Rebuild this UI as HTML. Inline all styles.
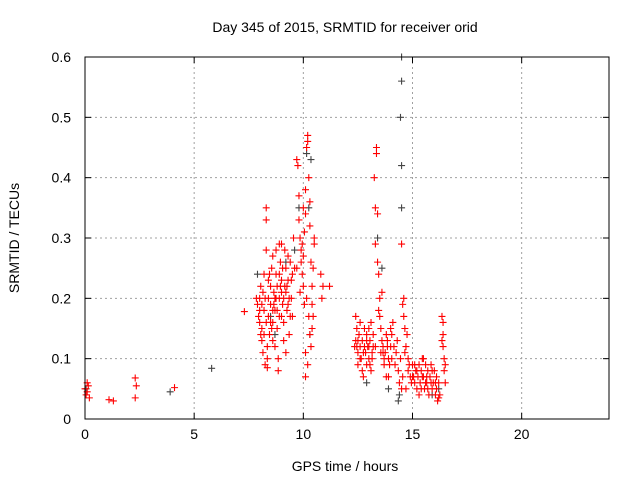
<!DOCTYPE html>
<html><head><meta charset="utf-8"><style>
body{margin:0;background:#fff;}
svg{display:block;font-family:"Liberation Sans",sans-serif;}
</style></head><body>
<svg id="chart" width="640" height="480">
<text x="345" y="32" text-anchor="middle" font-size="14">Day 345 of 2015, SRMTID for receiver orid</text>
<text transform="translate(19,238) rotate(-90)" text-anchor="middle" font-size="14">SRMTID / TECUs</text>
<text x="345" y="471" text-anchor="middle" font-size="14">GPS time / hours</text>
<g id="grid"></g>
<g id="ticks"></g>
<g id="marks"></g>
<rect x="85" y="57" width="524" height="362" fill="none" stroke="#000"/>
</svg>
<script>
const xTicks=[0,5,10,15,20];
const yTicks=[0,0.1,0.2,0.3,0.4,0.5,0.6];
const yTickLabels=["0","0.1","0.2","0.3","0.4","0.5","0.6"];
const redHours=[0,0.05,0.1,0.15,0.2,0.1,1.1,1.3,2.3,2.35,2.3,4.1,7.3,
7.9,7.95,8.0,8.0,8.05,8.1,8.1,8.15,8.2,8.2,8.25,8.3,8.3,8.3,8.35,8.35,8.4,8.4,8.45,8.5,8.5,8.55,8.6,8.6,8.65,8.7,8.7,8.75,8.8,8.8,8.85,8.85,8.9,8.9,8.95,9.0,9.0,9.05,9.1,9.1,9.15,9.2,9.2,9.25,9.3,9.3,9.35,9.4,9.45,9.5,9.5,9.55,9.6,8.9,8.6,8.2,9.1,9.0,8.45,8.15,7.85,8.75,8.95,9.35,9.2,8.55,8.65,
8.0,8.1,8.25,8.4,8.5,8.7,8.8,9.0,9.15,9.3,9.45,8.05,8.35,8.6,8.9,9.25,9.4,8.3,8.75,9.05,
9.7,9.75,9.8,9.8,9.85,9.9,9.9,9.95,10.0,10.0,10.05,10.1,10.1,10.15,10.2,10.2,10.25,10.3,10.3,10.35,10.4,10.4,10.45,10.5,10.5,10.3,10.2,10.1,10.1,10.35,10.8,10.9,11.2,10.85,10.0,9.95,10.05,10.15,10.25,9.85,10.45,10.4,9.7,
12.4,12.45,12.5,12.5,12.55,12.6,12.6,12.65,12.7,12.7,12.75,12.8,12.85,12.9,12.9,12.95,13.0,13.0,13.05,13.1,13.1,13.15,13.2,13.25,13.3,13.3,13.35,13.35,13.4,13.4,13.45,13.5,13.5,13.55,13.6,13.6,13.65,13.7,13.7,13.75,13.8,13.8,13.85,13.9,13.95,14.0,14.0,12.4,12.5,12.8,13.2,13.45,13.55,13.9,12.35,13.05,
12.45,12.6,12.75,12.9,13.0,13.15,13.3,13.65,13.85,14.05,
14.05,14.1,14.15,14.2,14.25,14.3,14.35,14.4,14.45,14.5,14.55,14.6,14.6,14.65,14.7,14.75,14.8,14.85,14.9,14.95,14.5,14.55,14.7,14.8,14.65,
15.0,15.05,15.1,15.15,15.2,15.25,15.3,15.35,15.4,15.45,15.5,15.55,15.6,15.65,15.7,15.75,15.8,15.85,15.9,15.95,16.0,16.05,16.1,16.15,16.2,16.25,15.1,15.3,15.5,15.7,15.9,16.1,16.2,15.6,15.4,
15.0,15.2,15.45,15.65,15.85,16.05,
16.35,16.4,16.35,16.4,16.45,16.5,16.45,16.5,16.4];
const redValues=[0.05,0.04,0.06,0.055,0.035,0.045,0.032,0.03,0.068,0.055,0.035,0.052,0.178,
0.19,0.17,0.2,0.16,0.22,0.15,0.13,0.11,0.18,0.24,0.09,0.35,0.33,0.28,0.1,0.085,0.2,0.17,0.14,0.22,0.19,0.25,0.27,0.16,0.21,0.18,0.12,0.24,0.22,0.15,0.1,0.08,0.2,0.17,0.26,0.29,0.23,0.19,0.16,0.13,0.28,0.25,0.21,0.18,0.27,0.23,0.14,0.26,0.2,0.24,0.17,0.3,0.25,0.29,0.13,0.14,0.2,0.17,0.24,0.21,0.2,0.28,0.22,0.2,0.11,0.15,0.19,
0.18,0.19,0.2,0.23,0.16,0.2,0.18,0.21,0.22,0.19,0.23,0.14,0.12,0.18,0.24,0.22,0.17,0.16,0.2,0.25,
0.43,0.42,0.37,0.33,0.3,0.28,0.26,0.24,0.27,0.22,0.31,0.34,0.38,0.45,0.47,0.46,0.4,0.36,0.32,0.26,0.22,0.19,0.25,0.29,0.3,0.14,0.09,0.07,0.11,0.12,0.24,0.22,0.22,0.2,0.35,0.29,0.19,0.2,0.17,0.21,0.17,0.15,0.25,
0.17,0.15,0.13,0.11,0.14,0.16,0.12,0.1,0.13,0.08,0.07,0.12,0.11,0.14,0.09,0.12,0.15,0.1,0.13,0.16,0.08,0.11,0.14,0.4,0.35,0.29,0.45,0.44,0.34,0.26,0.24,0.2,0.17,0.15,0.21,0.13,0.12,0.09,0.1,0.11,0.14,0.07,0.13,0.1,0.09,0.12,0.15,0.13,0.09,0.15,0.12,0.18,0.11,0.07,0.12,0.09,
0.12,0.1,0.11,0.13,0.12,0.1,0.12,0.11,0.12,0.1,
0.14,0.16,0.12,0.09,0.11,0.13,0.08,0.06,0.1,0.29,0.19,0.2,0.17,0.15,0.12,0.14,0.1,0.09,0.07,0.06,0.05,0.07,0.05,0.08,0.11,
0.09,0.07,0.06,0.08,0.05,0.07,0.09,0.06,0.08,0.1,0.07,0.05,0.09,0.06,0.08,0.04,0.07,0.09,0.05,0.06,0.08,0.04,0.05,0.03,0.06,0.04,0.09,0.04,0.1,0.05,0.08,0.07,0.035,0.06,0.05,
0.07,0.08,0.07,0.07,0.06,0.06,
0.17,0.16,0.13,0.12,0.1,0.09,0.08,0.06,0.14];
const blackHours=[0.05,3.9,5.8,7.9,8.5,8.7,9.2,9.8,10.15,10.35,10.25,10.3,13.4,13.6,14.5,14.5,14.45,14.5,14.5,14.4,14.35,13.9,15.9,16.2,12.9,9.6];
const blackValues=[0.05,0.045,0.084,0.24,0.17,0.14,0.26,0.35,0.44,0.43,0.35,0.14,0.3,0.25,0.6,0.56,0.5,0.42,0.35,0.04,0.03,0.05,0.04,0.05,0.06,0.28];

const NS="http://www.w3.org/2000/svg";
const X0=85,X1=609,Y0=419,Y1=57;
function sx(h){return X0+(h/24)*(X1-X0);}
function sy(v){return Y0-(v/0.6)*(Y0-Y1);}
const grid=document.getElementById('grid'),ticks=document.getElementById('ticks'),marks=document.getElementById('marks');
function mk(tag,attrs,parent){const e=document.createElementNS(NS,tag);for(const k in attrs)e.setAttribute(k,attrs[k]);parent.appendChild(e);return e;}
xTicks.forEach(t=>{
  const x=sx(t);
  if(t>0){const g=mk('line',{x1:x,x2:x,y1:Y1,y2:Y0,stroke:'#a0a0a0','stroke-dasharray':'2,3'},grid);
  
  }
  mk('line',{x1:x,x2:x,y1:Y0,y2:Y0-6,stroke:'#000'},ticks);
  mk('line',{x1:x,x2:x,y1:Y1,y2:Y1+6,stroke:'#000'},ticks);
  const l=mk('text',{x:x,y:Y0+20,'text-anchor':'middle','font-size':'14'},ticks);l.textContent=t;
  
  
});
yTicks.forEach((t,i)=>{
  const y=sy(t);
  if(i>0&&i<yTicks.length-1){const g=mk('line',{x1:X0,x2:X1,y1:y,y2:y,stroke:'#a0a0a0','stroke-dasharray':'2,3'},grid);
  
  }
  mk('line',{x1:X0,x2:X0+6,y1:y,y2:y,stroke:'#000'},ticks);
  mk('line',{x1:X1,x2:X1-6,y1:y,y2:y,stroke:'#000'},ticks);
  const l=mk('text',{x:X0-14,y:y+5,'text-anchor':'end','font-size':'14'},ticks);l.textContent=yTickLabels[i];
  
  
});
function plus(h,v,color,name){
  const x=sx(h),y=sy(v);
  const p=mk('path',{d:`M${x-3.5},${y}h7M${x},${y-3.5}v7`,stroke:color,'stroke-width':'1.1',fill:'none'},marks);
  
  
}
blackHours.forEach((h,i)=>plus(h,blackValues[i],'#444','black-point'));
redHours.forEach((h,i)=>plus(h,redValues[i],'#ff0000','red-point'));
</script>
</body></html>
